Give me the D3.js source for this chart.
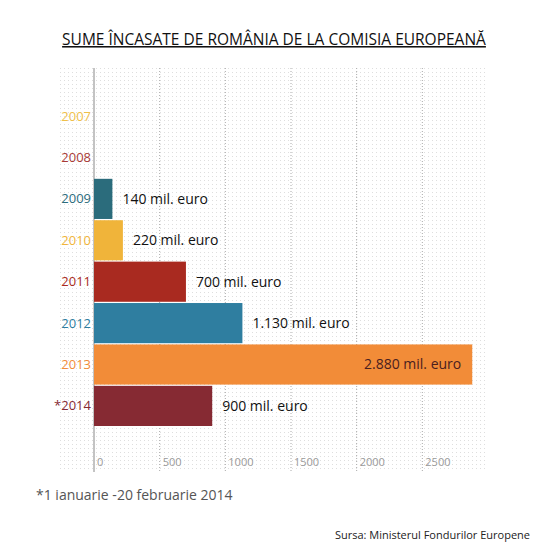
<!DOCTYPE html>
<html>
<head>
<meta charset="utf-8">
<script src="https://cdn.jsdelivr.net/npm/d3@7"></script>
<style>
  body { margin: 0; background: #fff; }
  text { font-family: "Open Sans", "Noto Sans", sans-serif; }
</style>
</head>
<body>
<svg id="chart" width="548" height="558"></svg>
<script>
// data
const years = ['2007', '2008', '2009', '2010', '2011', '2012', '2013', '*2014'];
const amounts = [0, 0, 140, 220, 700, 1130, 2880, 900];
const amountLabels = ['', '', '140 mil. euro', '220 mil. euro', '700 mil. euro', '1.130 mil. euro', '2.880 mil. euro', '900 mil. euro'];
const colors = ['#efc04a', '#a83a35', '#2b6c7c', '#f0b43a', '#a92a20', '#2f7ea0', '#f28c38', '#862a33'];
const xTicks = [0, 500, 1000, 1500, 2000, 2500];

const svg = d3.select('#chart');
const margin = { top: 96, left: 94 };

const x = d3.scaleLinear().domain([0, 3000]).range([margin.left, margin.left + 394]);
const y = d3.scaleBand().domain(years).range([margin.top, 426]).paddingInner(0.03);

// dotted background
const pat = svg.append('defs').append('pattern')
  .attr('id', 'dots').attr('width', 4).attr('height', 4)
  .attr('patternUnits', 'userSpaceOnUse');
pat.append('rect').attr('width', 1).attr('height', 1).attr('fill', '#dedede');
svg.append('rect').attr('x', 60).attr('y', 68).attr('width', 428).attr('height', 404)
  .attr('fill', 'url(#dots)');

// gridlines
svg.append('g').selectAll('line').data(xTicks.slice(1)).join('line')
  .attr('x1', d => x(d)).attr('x2', d => x(d))
  .attr('y1', 68).attr('y2', 472)
  .attr('stroke', '#aaa').attr('stroke-dasharray', '1,2');

svg.append('line').attr('x1', x(0)).attr('x2', x(0)).attr('y1', 68).attr('y2', 472)
  .attr('stroke', '#888');

// bars
svg.append('g').selectAll('rect').data(years).join('rect')
  .attr('x', x(0))
  .attr('y', d => y(d))
  .attr('width', (d, i) => x(amounts[i]) - x(0))
  .attr('height', y.bandwidth())
  .attr('fill', (d, i) => colors[i]);

// year labels
svg.append('g').selectAll('text').data(years).join('text')
  .attr('x', x(0) - 3)
  .attr('y', d => y(d) + y.bandwidth() / 2)
  .attr('dy', '0.35em')
  .attr('text-anchor', 'end')
  .attr('font-size', 13)
  .attr('fill', (d, i) => colors[i])
  .text(d => d);

// value labels
svg.append('g').selectAll('text').data(years).join('text')
  .attr('x', (d, i) => i === 6 ? x(amounts[i]) - 11 : x(amounts[i]) + 10)
  .attr('y', d => y(d) + y.bandwidth() / 2)
  .attr('dy', '0.35em')
  .attr('text-anchor', (d, i) => i === 6 ? 'end' : 'start')
  .attr('font-size', 14)
  .attr('fill', (d, i) => i === 6 ? '#4a2020' : '#111')
  .text((d, i) => amountLabels[i]);

// x axis tick labels
svg.append('g').selectAll('text').data(xTicks).join('text')
  .attr('x', d => x(d) + 3)
  .attr('y', 466)
  .attr('font-size', 11)
  .attr('fill', '#999')
  .text(d => d);

// title
svg.append('text').attr('x', 274).attr('y', 45).attr('text-anchor', 'middle')
  .attr('font-size', 15.5).attr('fill', '#111').attr('text-decoration', 'underline')
  .text('SUME ÎNCASATE DE ROMÂNIA DE LA COMISIA EUROPEANĂ');

svg.append('text').attr('x', 36).attr('y', 500).attr('font-size', 14).attr('fill', '#555')
  .text('*1 ianuarie -20 februarie 2014');

svg.append('text').attr('x', 530).attr('y', 539).attr('text-anchor', 'end')
  .attr('font-size', 11).attr('fill', '#222')
  .text('Sursa: Ministerul Fondurilor Europene');
</script>
</body>
</html>
